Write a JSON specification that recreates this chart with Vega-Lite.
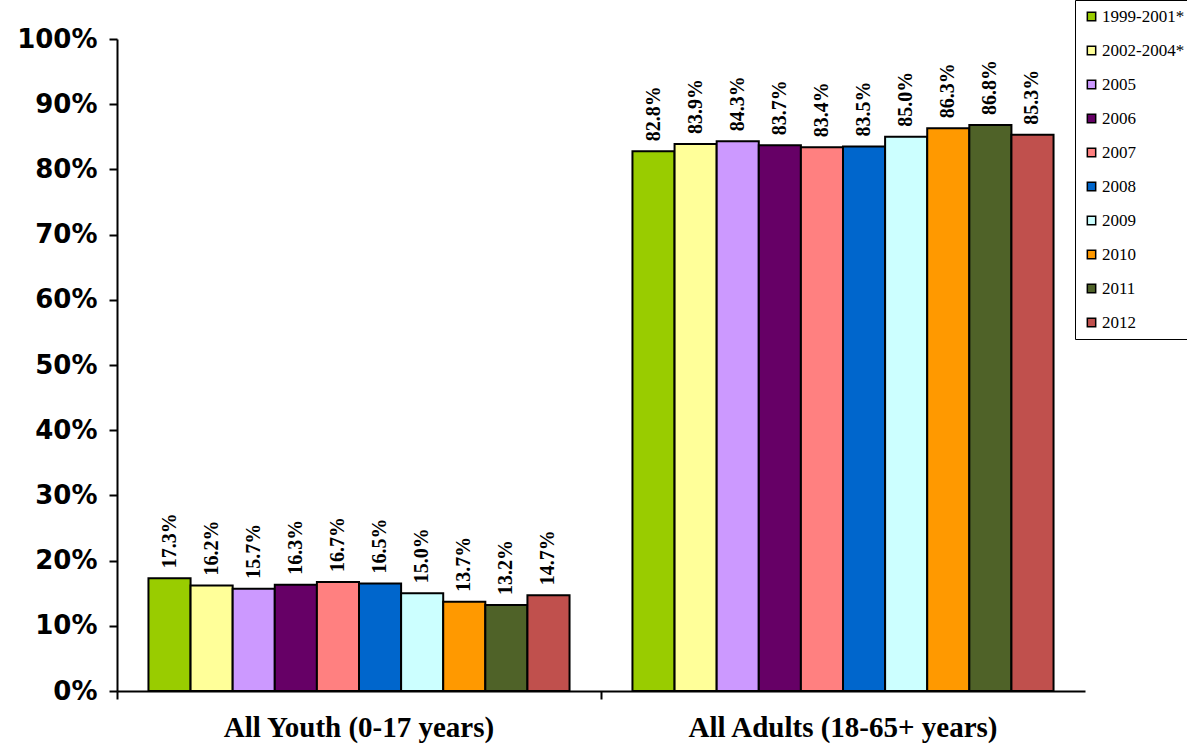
{
  "$schema": "https://vega.github.io/schema/vega-lite/v6.json",
  "width": 968,
  "height": 652,
  "autosize": "none",
  "padding": {"left": 117, "top": 39, "right": 102, "bottom": 60},
  "background": "white",
  "config": {"view": {"stroke": null}},
  "data": {
    "values": [
      {"group": "All Youth (0-17 years)", "period": "1999-2001*", "value": 17.3},
      {"group": "All Youth (0-17 years)", "period": "2002-2004*", "value": 16.2},
      {"group": "All Youth (0-17 years)", "period": "2005", "value": 15.7},
      {"group": "All Youth (0-17 years)", "period": "2006", "value": 16.3},
      {"group": "All Youth (0-17 years)", "period": "2007", "value": 16.7},
      {"group": "All Youth (0-17 years)", "period": "2008", "value": 16.5},
      {"group": "All Youth (0-17 years)", "period": "2009", "value": 15.0},
      {"group": "All Youth (0-17 years)", "period": "2010", "value": 13.7},
      {"group": "All Youth (0-17 years)", "period": "2011", "value": 13.2},
      {"group": "All Youth (0-17 years)", "period": "2012", "value": 14.7},
      {"group": "All Adults (18-65+ years)", "period": "1999-2001*", "value": 82.8},
      {"group": "All Adults (18-65+ years)", "period": "2002-2004*", "value": 83.9},
      {"group": "All Adults (18-65+ years)", "period": "2005", "value": 84.3},
      {"group": "All Adults (18-65+ years)", "period": "2006", "value": 83.7},
      {"group": "All Adults (18-65+ years)", "period": "2007", "value": 83.4},
      {"group": "All Adults (18-65+ years)", "period": "2008", "value": 83.5},
      {"group": "All Adults (18-65+ years)", "period": "2009", "value": 85.0},
      {"group": "All Adults (18-65+ years)", "period": "2010", "value": 86.3},
      {"group": "All Adults (18-65+ years)", "period": "2011", "value": 86.8},
      {"group": "All Adults (18-65+ years)", "period": "2012", "value": 85.3}
    ]
  },
  "transform": [
    {"calculate": "format(datum.value, '.1f') + '%'", "as": "label"}
  ],
  "encoding": {
    "x": {
      "field": "group", "type": "nominal", "sort": null, "title": null,
      "scale": {"paddingInner": 0.13, "paddingOuter": 0.065},
      "axis": {
        "labelAngle": 0, "labelFont": "Liberation Serif", "labelFontSize": 29, "labelFontWeight": "bold",
        "labelColor": "black", "labelLimit": 0, "domainColor": "black", "domainWidth": 2, "tickColor": "black",
        "tickWidth": 2, "tickSize": 8, "bandPosition": -0.074, "labelPadding": 14
      }
    },
    "xOffset": {"field": "period", "type": "nominal", "sort": null},
    "y": {
      "field": "value", "type": "quantitative", "title": null,
      "scale": {"domain": [0, 100]},
      "axis": {
        "values": [0, 10, 20, 30, 40, 50, 60, 70, 80, 90, 100],
        "labelExpr": "datum.value + '%'", "grid": false,
        "labelFont": "DejaVu Sans", "labelFontSize": 26, "labelFontWeight": "bold", "labelColor": "black",
        "domainColor": "black", "domainWidth": 2, "tickColor": "black", "tickWidth": 2, "tickSize": 8,
        "labelPadding": 12
      }
    }
  },
  "layer": [
    {
      "mark": {"type": "bar", "stroke": "black", "strokeWidth": 2},
      "encoding": {
        "color": {
          "field": "period", "type": "nominal", "sort": null, "title": null,
          "scale": {
            "domain": ["1999-2001*", "2002-2004*", "2005", "2006", "2007", "2008", "2009", "2010", "2011", "2012"],
            "range": ["#99CC00", "#FFFF99", "#CC99FF", "#660066", "#FF8080", "#0066CC", "#CCFFFF", "#FF9900", "#4F6228", "#C0504D"]
          },
          "legend": {
            "orient": "none", "legendX": 958, "legendY": -39,
            "symbolType": "square", "symbolSize": 70, "symbolStrokeColor": "black", "symbolStrokeWidth": 1.5,
            "labelFont": "Liberation Serif", "labelFontSize": 17, "labelColor": "black",
            "rowPadding": 16, "padding": 8, "strokeColor": "black", "fillColor": "white",
            "labelOffset": 2
          }
        }
      }
    },
    {
      "mark": {"type": "text", "angle": 270, "align": "left", "baseline": "middle", "dx": 10,
               "font": "Liberation Serif", "fontSize": 20, "fontWeight": "bold", "color": "black"},
      "encoding": {
        "text": {"field": "label", "type": "nominal"},
        "detail": {"field": "period"}
      }
    }
  ]
}
